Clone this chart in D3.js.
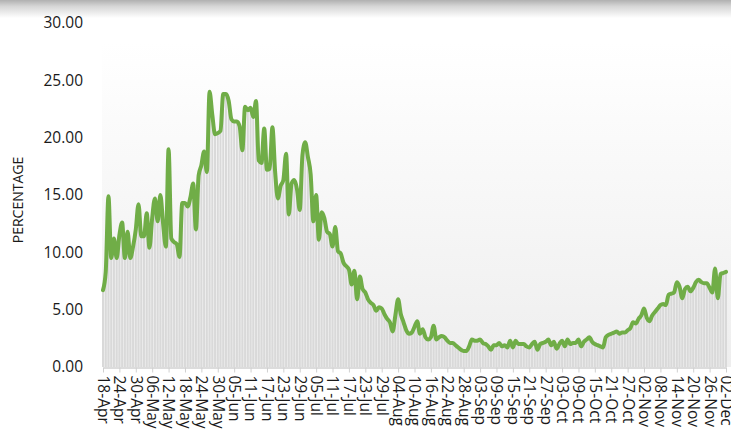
<!DOCTYPE html>
<html>
<head>
<meta charset="utf-8">
<script src="https://cdn.jsdelivr.net/npm/d3@7"></script>
<style>
  html, body { margin: 0; padding: 0; background: #ffffff; overflow: hidden; }
  svg { display: block; }
</style>
</head>
<body>
<svg id="chart" width="731" height="435"></svg>
<script>
// ---- DATA ----
const startDate = "2020-04-18";
const year = 2020;
const dailyPercentage = [
  6.7, 8.3, 14.9, 9.5, 11.2, 9.5, 11.5, 12.6, 9.5, 11.8,
  9.5, 10.5, 12.0, 14.2, 11.4, 11.4, 13.4, 10.4, 13.0, 14.7,
  12.7, 15.0, 12.5, 10.5, 19.0, 11.2, 10.9, 10.7, 9.6, 14.3,
  14.3, 14.0, 14.8, 16.0, 12.0, 16.7, 17.6, 18.8, 17.0, 24.0,
  22.0, 20.3, 20.4, 20.6, 23.8, 23.8, 23.2, 21.6, 21.4, 21.4,
  21.0, 18.9, 22.7, 22.4, 22.6, 21.8, 23.2, 18.0, 17.8, 20.8,
  17.2, 17.3, 20.9, 17.0, 14.7, 15.8, 16.3, 18.6, 13.3, 16.0,
  16.3, 15.5, 13.7, 18.5, 19.6, 18.3, 16.8, 12.7, 15.0, 11.1,
  13.5, 13.0, 11.8, 11.6, 10.5, 12.2, 10.1, 9.9, 9.1, 8.8,
  8.5, 7.2, 8.4, 5.9, 7.9, 6.8, 6.5, 5.9, 5.6, 5.4,
  4.9, 5.2, 5.1, 4.6, 4.2, 3.9, 3.1, 4.5, 5.9, 4.6,
  3.9, 3.2, 2.9, 3.0, 3.5, 4.0, 2.9, 3.3, 2.6, 2.4,
  2.6, 3.6, 2.4, 2.6, 2.7, 2.6, 2.3, 2.1, 2.1, 1.9,
  1.7, 1.5, 1.4, 1.4, 1.8, 2.4, 2.3, 2.3, 2.4, 2.1,
  2.0, 1.8, 1.5, 1.9, 1.9, 2.1, 1.8, 1.9, 1.7, 2.3,
  1.7, 2.3, 2.0, 2.0, 2.0, 1.8, 1.7, 2.0, 2.2, 1.5,
  2.0, 2.1, 2.2, 2.4, 1.9, 2.2, 1.6, 2.0, 2.3, 1.8,
  2.4, 2.0, 2.1, 2.1, 2.4, 1.8, 2.2, 2.4, 2.6, 2.2,
  2.0, 1.9, 1.8, 1.7, 2.6, 2.8, 2.9, 3.0, 3.1, 2.9,
  3.0, 3.0, 3.2, 3.4, 3.9, 3.8, 4.2, 4.5, 5.1, 4.3,
  4.0, 4.5, 4.8, 5.1, 5.4, 5.5, 5.4, 6.3, 6.4, 6.5,
  7.4, 7.0, 6.0, 6.8, 7.0, 6.6, 6.9, 7.4, 7.6, 7.4,
  7.3, 7.3, 6.9, 6.5, 8.6, 6.0, 8.1, 8.2, 8.3
];
const xTickLabels = [
  "18-Apr","24-Apr","30-Apr","06-May","12-May","18-May","24-May","30-May",
  "05-Jun","11-Jun","17-Jun","23-Jun","29-Jun","05-Jul","11-Jul","17-Jul",
  "23-Jul","29-Jul","04-Aug","10-Aug","16-Aug","22-Aug","28-Aug","03-Sep",
  "09-Sep","15-Sep","21-Sep","27-Sep","03-Oct","09-Oct","15-Oct","21-Oct",
  "27-Oct","02-Nov","08-Nov","14-Nov","20-Nov","26-Nov","02-Dec"
];
const yTickValues = [0, 5, 10, 15, 20, 25, 30];
const yAxisTitle = "PERCENTAGE";

// ---- CHART ----
const svg = d3.select("#chart");
const W = 731, H = 435;
const plotLeft = 103, plotRight = 726, plotTop = 23, plotBottom = 367;

const start = d3.utcParse("%Y-%m-%d")(startDate);
const dates = dailyPercentage.map((_, i) => d3.utcDay.offset(start, i));
const data = dates.map((d, i) => ({ date: d, value: dailyPercentage[i] }));
const parseTick = d3.utcParse("%d-%b-%Y");
const tickDates = xTickLabels.map(l => parseTick(l + "-" + year));

const x = d3.scaleUtc().domain([dates[0], dates[dates.length - 1]]).range([plotLeft, plotRight]);
const y = d3.scaleLinear().domain([0, 30]).range([plotBottom, plotTop]);

const defs = svg.append("defs");
const shadow = defs.append("linearGradient").attr("id", "topShadow")
  .attr("x1", 0).attr("y1", 0).attr("x2", 0).attr("y2", 1);
shadow.append("stop").attr("offset", "0%").attr("stop-color", "#b0b0b0");
shadow.append("stop").attr("offset", "35%").attr("stop-color", "#d6d6d6");
shadow.append("stop").attr("offset", "100%").attr("stop-color", "#ffffff");

const bg = defs.append("linearGradient").attr("id", "plotBg")
  .attr("x1", 0).attr("y1", 0).attr("x2", 0).attr("y2", 1);
bg.append("stop").attr("offset", "0%").attr("stop-color", "#ffffff");
bg.append("stop").attr("offset", "100%").attr("stop-color", "#eeeeee");

// top shadow band
svg.append("rect").attr("x", 0).attr("y", 0).attr("width", W).attr("height", 18)
  .attr("fill", "url(#topShadow)");

// plot background
svg.append("rect")
  .attr("x", plotLeft - 1).attr("y", y(30) + 20)
  .attr("width", W - plotLeft + 1).attr("height", y(0) - y(30) - 20)
  .attr("fill", "url(#plotBg)");

// bars
const step = x(dates[1]) - x(dates[0]);
const barW = step * 0.72;
svg.append("g").selectAll("rect").data(data).join("rect")
  .attr("x", d => x(d.date) - barW / 2)
  .attr("y", d => y(d.value))
  .attr("width", barW)
  .attr("height", d => y(0) - y(d.value))
  .attr("fill", "#d9d9d9");

// x axis
const xAxis = d3.axisBottom(x)
  .tickValues(tickDates)
  .tickFormat((d, i) => xTickLabels[i])
  .tickSize(5)
  .tickSizeOuter(0);
const gx = svg.append("g").attr("transform", `translate(0,${plotBottom + 0.5})`).call(xAxis);
gx.select(".domain").attr("stroke", "#d0d0d0").attr("stroke-width", 1.5);
gx.selectAll(".tick line").attr("stroke", "#d0d0d0");
gx.selectAll(".tick text")
  .attr("font-family", "'Open Sans', 'Noto Sans', sans-serif")
  .attr("font-size", 15.5)
  .attr("fill", "#1a1a1a")
  .attr("text-anchor", "start")
  .attr("transform", "rotate(90)")
  .attr("x", 8)
  .attr("y", 0)
  .attr("dy", "0.36em");

// y axis
const yAxis = d3.axisLeft(y).tickValues(yTickValues).tickFormat(d3.format(".2f")).tickSize(0);
const gy = svg.append("g").attr("transform", `translate(${plotLeft - 20},0)`).call(yAxis);
gy.select(".domain").remove();
gy.selectAll(".tick text")
  .attr("font-family", "'Open Sans', 'Noto Sans', sans-serif")
  .attr("font-size", 15.5)
  .attr("fill", "#1a1a1a")
  .attr("x", 0);

// y title
svg.append("text")
  .attr("transform", `translate(23,${(plotTop + plotBottom) / 2 + 5}) rotate(-90)`)
  .attr("text-anchor", "middle")
  .attr("font-family", "'Open Sans', 'Noto Sans', sans-serif")
  .attr("font-size", 14)
  .attr("fill", "#1a1a1a")
  .text(yAxisTitle);

// line
const line = d3.line().x(d => x(d.date)).y(d => y(d.value)).curve(d3.curveMonotoneX);
svg.append("path").datum(data)
  .attr("d", line)
  .attr("fill", "none")
  .attr("stroke", "#70ad47")
  .attr("stroke-width", 4)
  .attr("stroke-linejoin", "round")
  .attr("stroke-linecap", "round");
</script>
</body>
</html>
